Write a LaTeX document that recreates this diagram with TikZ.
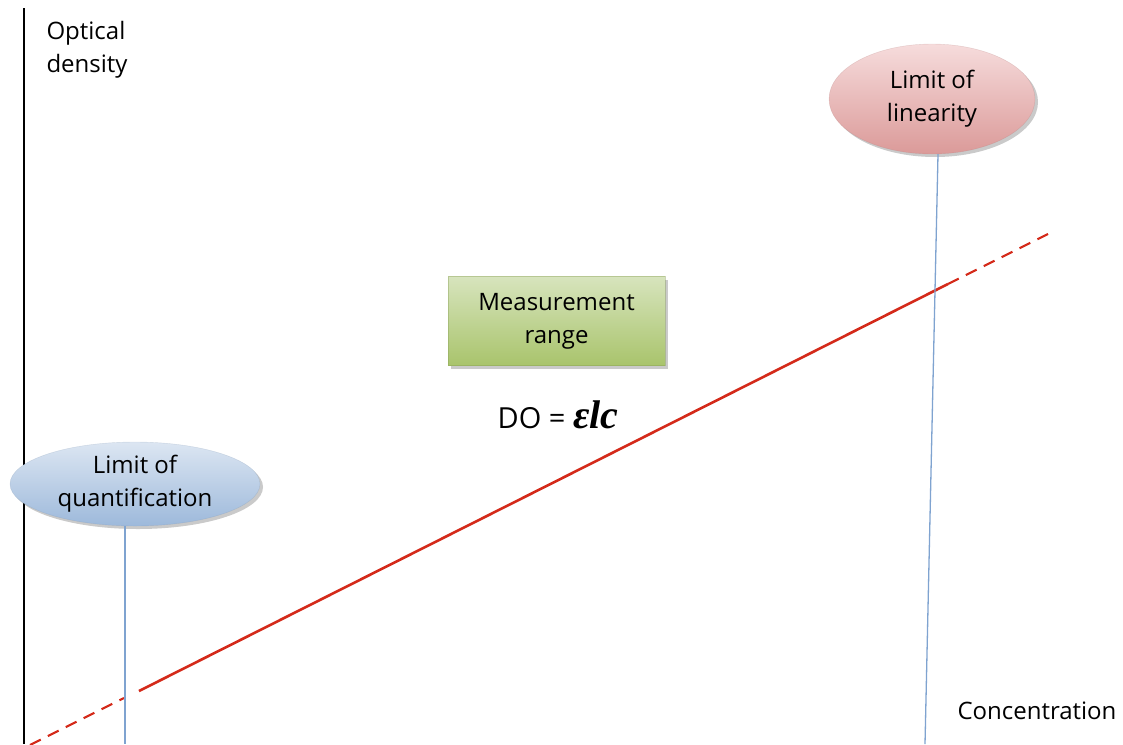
\documentclass[tikz,border=0pt]{standalone}
\usepackage{fontspec}
\setmainfont{Open Sans}
\newfontfamily\formulafont{Liberation Serif}
\usetikzlibrary{shapes.geometric,shadows}
\definecolor{qtop}{HTML}{DCE6F2}
\definecolor{qbot}{HTML}{9DB9DB}
\definecolor{ltop}{HTML}{F6DCDC}
\definecolor{lbot}{HTML}{DB9A99}
\definecolor{gtop}{HTML}{D7E4BD}
\definecolor{gbot}{HTML}{A9C46C}
\definecolor{redline}{HTML}{D42A1A}
\definecolor{blueline}{HTML}{7FA3D0}
\tikzset{
  txt/.style={font=\fontsize{24}{33}\selectfont, align=center, text=black},
  shad/.style={drop shadow={shadow xshift=3pt, shadow yshift=-3pt, opacity=0.35, fill=black!60}},
  qell/.style={ellipse, txt, inner sep=0pt, shad, top color=qtop, bottom color=qbot, draw=qbot!80!black, draw opacity=0.3},
  lell/.style={ellipse, txt, inner sep=0pt, shad, top color=ltop, bottom color=lbot, draw=lbot!80!black, draw opacity=0.3},
  gbox/.style={rectangle, txt, inner sep=0pt, shad, top color=gtop, bottom color=gbot, draw=gbot!80!black, draw opacity=0.4},
  vline/.style={draw=blueline, line width=1.3pt},
  rsolid/.style={draw=redline, line width=2.6pt},
  rdash/.style={draw=redline, line width=2.2pt, dash pattern=on 12pt off 8pt},
}
\begin{document}
\begin{tikzpicture}[x=1pt,y=-1pt]
\useasboundingbox (0,0) rectangle (1123,744);
% axis
\coordinate (axt) at (24,8);
\coordinate (axb) at (24,744);
\draw[black, line width=1.3pt] (axt) -- (axb);
\node[txt, align=left, anchor=north west] (od) at (43,18) {Optical\\density};
\node[txt, anchor=west] (conc) at (954,711) {Concentration};

% red line
\coordinate (r0) at (30,745);
\coordinate (r1) at (124,698);
\coordinate (r2) at (139,691);
\coordinate (r3) at (948,284);
\coordinate (r4) at (1048,234);
\draw[rdash] (r0) -- (r1);
\draw[rsolid] (r2) -- (r3);
\draw[rdash] (r3) -- (r4);

% blue verticals
\coordinate (qb) at (125,744);
\coordinate (lb) at (925,744);
\node[lell, minimum width=206pt, minimum height=110pt] (lol) at (932,99) {Limit of\\linearity};
\node[qell, minimum width=250pt, minimum height=84pt] (loq) at (135,484) {Limit of\\quantification};
\draw[vline] (loq.south -| qb) -- (qb);
\draw[vline] ([xshift=6pt]lol.south) -- (lb);

% measurement range
\node[gbox, minimum width=217pt, minimum height=89pt] (mr) at (556.5,321) {Measurement\\range};
\node[txt, font=\fontsize{29}{34}\selectfont] (eq) at (558,415) {DO = {\formulafont\fontsize{40}{40}\selectfont\bfseries\itshape εlc}};
\end{tikzpicture}
\end{document}
